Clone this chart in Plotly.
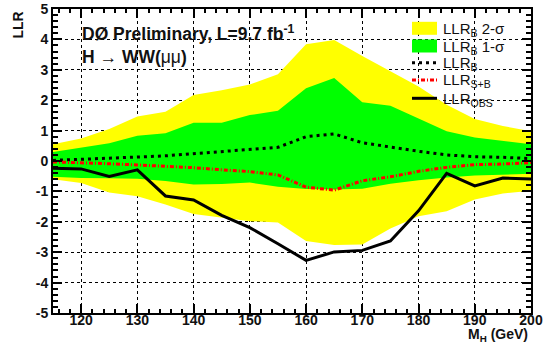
import plotly.graph_objects as go

mh = [115, 120, 125, 130, 135, 140, 145, 150, 155, 160, 165, 170, 175, 180, 185, 190, 195, 200]

llr_b = [0.02, 0.05, 0.08, 0.13, 0.17, 0.24, 0.30, 0.36, 0.45, 0.80, 0.89, 0.60, 0.45, 0.32, 0.20, 0.14, 0.12, 0.08]
llr_sb = [-0.03, -0.05, -0.09, -0.13, -0.17, -0.22, -0.29, -0.35, -0.46, -0.86, -0.96, -0.65, -0.52, -0.34, -0.21, -0.12, -0.10, -0.05]
llr_obs = [-0.24, -0.26, -0.51, -0.29, -1.15, -1.28, -1.79, -2.19, -2.72, -3.27, -2.99, -2.94, -2.63, -1.64, -0.41, -0.82, -0.56, -0.59]

sig1_up = [0.30, 0.44, 0.58, 0.83, 0.91, 1.26, 1.26, 1.51, 1.65, 2.39, 2.73, 1.93, 1.82, 1.40, 0.98, 0.77, 0.66, 0.55]
sig1_dn = [-0.52, -0.56, -0.57, -0.58, -0.66, -0.77, -0.76, -0.71, -0.85, -0.92, -0.94, -0.91, -0.75, -0.63, -0.54, -0.48, -0.45, -0.42]
sig2_up = [0.55, 0.74, 1.05, 1.46, 1.62, 2.17, 2.33, 2.52, 2.85, 3.84, 3.98, 3.45, 2.95, 2.45, 1.85, 1.38, 1.15, 0.98]
sig2_dn = [-0.60, -0.72, -1.04, -1.16, -1.43, -1.74, -1.86, -1.98, -2.02, -2.63, -2.76, -2.75, -2.22, -1.82, -1.65, -1.27, -1.07, -0.98]

x_ticks = [120, 130, 140, 150, 160, 170, 180, 190, 200]
y_ticks = [-5, -4, -3, -2, -1, 0, 1, 2, 3, 4, 5]

legend_labels = ["LLR<sub>B</sub> 2-\u03c3", "LLR<sub>B</sub> 1-\u03c3", "LLR<sub>B</sub>",
                 "LLR<sub>S+B</sub>", "LLR<sub>OBS</sub>"]

FONT = "Liberation Sans"
TXT = "#111111"
YELLOW = "#ffff00"
GREEN = "#00ff00"
RED = "#ff0000"
DASH_B = "3px,4px"
DASH_SB = "4px,2px,1px,2px"

fig = go.Figure()

fig.add_trace(go.Scatter(
    x=mh + mh[::-1], y=sig2_up + sig2_dn[::-1],
    fill="toself", fillcolor=YELLOW, line=dict(width=0, color=YELLOW),
    mode="lines", name=legend_labels[0], hoverinfo="skip"))
fig.add_trace(go.Scatter(
    x=mh + mh[::-1], y=sig1_up + sig1_dn[::-1],
    fill="toself", fillcolor=GREEN, line=dict(width=0, color=GREEN),
    mode="lines", name=legend_labels[1], hoverinfo="skip"))
fig.add_trace(go.Scatter(
    x=mh, y=llr_b, mode="lines", name=legend_labels[2],
    line=dict(color="black", width=3, dash=DASH_B)))
fig.add_trace(go.Scatter(
    x=mh, y=llr_sb, mode="lines", name=legend_labels[3],
    line=dict(color=RED, width=3, dash=DASH_SB)))
fig.add_trace(go.Scatter(
    x=mh, y=llr_obs, mode="lines", name=legend_labels[4],
    line=dict(color="black", width=3)))

axis_common = dict(
    showline=True, linecolor="black", linewidth=2, mirror="allticks",
    ticks="inside", ticklen=9, tickwidth=1.5, tickcolor="black",
    showgrid=True, gridcolor="black", griddash="dot", gridwidth=1,
    zeroline=False,
    tickfont=dict(family=FONT, size=14, color=TXT, weight="bold"),
)

fig.update_xaxes(range=[115, 200], tickmode="array", tickvals=x_ticks,
                 ticktext=[str(v) for v in x_ticks], ticklabelstandoff=-7,
                 minor=dict(dtick=2, tick0=0, ticks="inside", ticklen=4, tickcolor="black", showgrid=False),
                 **axis_common)
fig.update_yaxes(range=[-5, 5], tickmode="array", tickvals=y_ticks,
                 ticktext=[str(v) for v in y_ticks],
                 minor=dict(dtick=0.2, tick0=0, ticks="inside", ticklen=5, tickcolor="black", showgrid=False),
                 **axis_common)

# manual legend (paper coordinates)
L, R, B, T = 53, 14, 37, 9
W, H = 545, 350
pw, ph = W - L - R, H - T - B


def px(xp):
    return (xp - L) / pw


def py(yp):
    return (H - B - yp) / ph


rows = [28.3, 46.0, 62.7, 80.0, 98.3]
sx0, sx1, tx = 412, 437, 441
shapes = []
for i, fc in enumerate([YELLOW, GREEN]):
    shapes.append(dict(type="rect", xref="paper", yref="paper",
                       x0=px(sx0), x1=px(sx1), y0=py(rows[i] + 6.5), y1=py(rows[i] - 6.5),
                       fillcolor=fc, line=dict(width=0), layer="above"))
for i, (col, dsh) in zip([2, 3, 4], [("black", DASH_B), (RED, DASH_SB), ("black", "solid")]):
    shapes.append(dict(type="line", xref="paper", yref="paper",
                       x0=px(sx0), x1=px(sx1), y0=py(rows[i]), y1=py(rows[i]),
                       line=dict(color=col, width=3, dash=dsh), layer="above"))

annotations = [
    dict(text="<b>D\u00d8 Preliminary, L=9.7 fb<sup>-1</sup></b><br><b>H</b> \u2192 <b>WW(</b>\u03bc\u03bc<b>)</b>",
         xref="paper", yref="paper", x=px(80), y=py(20), xanchor="left", yanchor="top",
         align="left", showarrow=False, font=dict(family=FONT, size=17.5, color=TXT)),
    dict(text="<b>LLR</b>", textangle=-90, xref="paper", yref="paper",
         x=px(18), y=py(10), xanchor="center", yanchor="top", showarrow=False,
         font=dict(family=FONT, size=14, color=TXT)),
    dict(text="<b>M<sub>H</sub> (GeV)</b>", xref="paper", yref="paper",
         x=px(530), y=py(324), xanchor="right", yanchor="top", showarrow=False,
         font=dict(family=FONT, size=14, color=TXT)),
]
for r, lab in zip(rows, legend_labels):
    annotations.append(dict(text=lab, xref="paper", yref="paper", x=px(tx), y=py(r + 1),
                            xanchor="left", yanchor="middle", showarrow=False,
                            font=dict(family=FONT, size=15, color=TXT)))

fig.update_layout(
    width=W, height=H,
    margin=dict(l=L, r=R, t=T, b=B, autoexpand=False),
    paper_bgcolor="white", plot_bgcolor="white",
    font=dict(family=FONT, color="black"),
    showlegend=False,
    shapes=shapes,
    annotations=annotations,
)

fig.write_html("out.html", config={"displayModeBar": False},
               post_script="document.body.style.margin='0';document.body.style.padding='0';")
